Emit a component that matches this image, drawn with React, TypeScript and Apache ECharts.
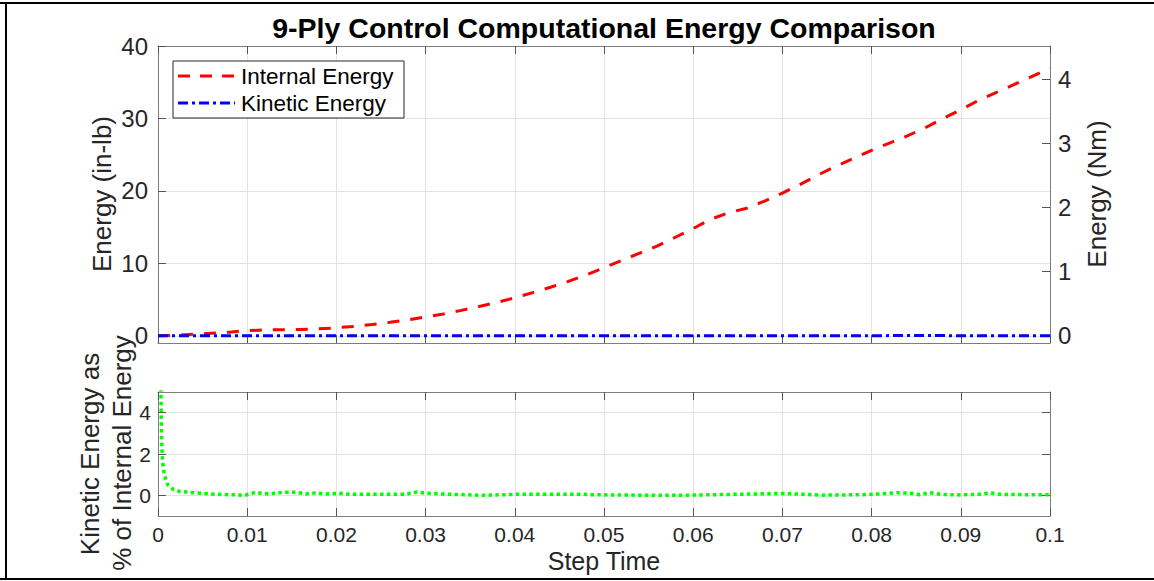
import React, { useEffect, useRef } from "react";
import * as echarts from "echarts";

// ---- Data ----
const ieTime = [0, 0.002, 0.004, 0.006, 0.008, 0.01, 0.012, 0.014, 0.016, 0.018, 0.02, 0.022, 0.024, 0.026, 0.028, 0.03, 0.032, 0.034, 0.036, 0.038, 0.04, 0.042, 0.044, 0.046, 0.048, 0.05, 0.052, 0.054, 0.056, 0.058, 0.06, 0.062, 0.064, 0.066, 0.068, 0.07, 0.072, 0.074, 0.076, 0.078, 0.08, 0.082, 0.084, 0.086, 0.088, 0.09, 0.092, 0.094, 0.096, 0.098, 0.1];
const internalEnergy = [0, 0.05, 0.2, 0.35, 0.5, 0.7, 0.8, 0.83, 0.87, 0.95, 1.1, 1.3, 1.55, 1.85, 2.2, 2.6, 3.0, 3.5, 4.05, 4.6, 5.25, 5.95, 6.7, 7.5, 8.4, 9.4, 10.4, 11.4, 12.4, 13.6, 14.8, 16.1, 17.0, 17.6, 18.6, 19.7, 20.9, 22.2, 23.4, 24.5, 25.6, 26.6, 27.6, 28.7, 30.0, 31.2, 32.5, 33.6, 34.7, 35.8, 36.9];

const keTime = [0, 0.01, 0.02, 0.03, 0.04, 0.05, 0.06, 0.07, 0.08, 0.085, 0.09, 0.1];
const kineticEnergy = [0, 0.0005, 0.001, 0.003, 0.002, 0.004, 0.002, 0.015, 0.01, 0.035, 0.01, 0.011];

const ratioTime = [0.0003, 0.00035, 0.0004, 0.0005, 0.0007, 0.0011, 0.0017, 0.0024, 0.004, 0.0066, 0.0088, 0.0097, 0.0103, 0.011, 0.0118, 0.0133, 0.014, 0.0155, 0.0166, 0.0177, 0.0189, 0.0202, 0.0215, 0.0252, 0.0278, 0.029, 0.0301, 0.0316, 0.035, 0.0365, 0.0402, 0.0477, 0.0484, 0.0559, 0.0597, 0.0671, 0.0701, 0.0746, 0.079, 0.0809, 0.0831, 0.0846, 0.0854, 0.0865, 0.0877, 0.0895, 0.0921, 0.0933, 0.0944, 0.097, 0.1];
const kePercent = [6.5, 4.2, 2.8, 1.7, 1.0, 0.5, 0.29, 0.19, 0.13, 0.05, 0.02, 0.0, 0.07, 0.15, 0.07, 0.1, 0.15, 0.15, 0.07, 0.12, 0.07, 0.1, 0.05, 0.05, 0.05, 0.16, 0.1, 0.07, 0.02, 0.0, 0.05, 0.05, 0.03, 0.0, 0.01, 0.07, 0.09, 0.01, 0.03, 0.07, 0.13, 0.09, 0.03, 0.13, 0.05, 0.02, 0.05, 0.12, 0.05, 0.03, 0.03];

const energyTicksInLb = [0, 10, 20, 30, 40];
const energyTicksNm = [0, 1, 2, 3, 4];
const ratioTicks = [0, 2, 4];
const IN_LB_PER_NM = 8.8507;

const TITLE = "9-Ply Control Computational Energy Comparison";
const FONT = "'Liberation Sans', Arial, Helvetica, sans-serif";

const zip = (xs: number[], ys: number[]) => xs.map((x, i) => [x, ys[i]]);

export default function App() {
  const ref = useRef<HTMLDivElement>(null);
  useEffect(() => {
    document.body.style.margin = "0";
    const chart = echarts.init(ref.current!, null, { renderer: "svg" });
    const axisLine = { show: true, onZero: false, lineStyle: { color: "#7d7d7d", width: 1 } };
    const tickIn = (show = true, vals?: number[]) => ({ show, inside: true, length: 8, lineStyle: { color: "#555555", width: 1 }, ...(vals ? { customValues: vals } : {}) });
    const grid = { show: true, lineStyle: { color: "#e3e3e3", width: 1 } };
    const xCommon = { type: "value", min: 0, max: 0.1, interval: 0.01 };
    const xFmt = (v: number) => String(+v.toFixed(2));

    chart.setOption({
      animation: false,
      textStyle: { fontFamily: FONT },
      grid: [
        { left: 158, top: 46, width: 892, height: 297, containLabel: false },
        { left: 158, top: 392, width: 892, height: 124, containLabel: false },
      ],
      xAxis: [
        { ...xCommon, gridIndex: 0, position: "bottom", axisLine, axisTick: tickIn(), axisLabel: { show: false }, splitLine: grid },
        { ...xCommon, gridIndex: 0, position: "top", axisLine, axisTick: tickIn(), axisLabel: { show: false }, splitLine: { show: false } },
        { ...xCommon, gridIndex: 1, position: "bottom", axisLine, axisTick: tickIn(), splitLine: grid,
          axisLabel: { show: true, fontSize: 21, color: "#262626", margin: 8, formatter: xFmt } },
        { ...xCommon, gridIndex: 1, position: "top", axisLine, axisTick: tickIn(), axisLabel: { show: false }, splitLine: { show: false } },
      ],
      yAxis: [
        { type: "value", gridIndex: 0, position: "left", min: -1, max: 40, axisLine, axisTick: tickIn(true, energyTicksInLb),
          axisLabel: { show: true, customValues: energyTicksInLb, fontSize: 24, color: "#262626", margin: 10 }, splitLine: grid },
        { type: "value", gridIndex: 0, position: "right", min: -1 / IN_LB_PER_NM, max: 40 / IN_LB_PER_NM, axisLine, axisTick: tickIn(true, energyTicksNm),
          axisLabel: { show: true, customValues: energyTicksNm, fontSize: 24, color: "#262626", margin: 8 }, splitLine: { show: false } },
        { type: "value", gridIndex: 1, position: "left", min: -1, max: 5, axisLine, axisTick: tickIn(true, ratioTicks),
          axisLabel: { show: true, customValues: ratioTicks, fontSize: 21, color: "#262626", margin: 7 }, splitLine: grid },
        { type: "value", gridIndex: 1, position: "right", min: -1, max: 5, axisLine, axisTick: tickIn(true, ratioTicks),
          axisLabel: { show: false }, splitLine: { show: false } },
      ],
      series: [
        { name: "Internal Energy", type: "line", xAxisIndex: 0, yAxisIndex: 0, data: zip(ieTime, internalEnergy), showSymbol: false, symbol: "none",
          lineStyle: { color: "#ff0000", width: 3, type: [12, 11], cap: "butt" }, z: 3 },
        { name: "Kinetic Energy", type: "line", xAxisIndex: 0, yAxisIndex: 0, data: zip(keTime, kineticEnergy), showSymbol: false, symbol: "none",
          lineStyle: { color: "#0000ff", width: 3, type: [10, 4, 3, 4], cap: "butt" }, z: 4 },
        { name: "KE %", type: "line", xAxisIndex: 2, yAxisIndex: 2, data: zip(ratioTime, kePercent), showSymbol: false, symbol: "none", clip: true,
          lineStyle: { color: "#00ff00", width: 3.5, type: [3.5, 3.3], cap: "butt" }, z: 3 },
      ],
      graphic: [
        // outer frame
        { type: "line", z: 200, shape: { x1: 0, y1: 3, x2: 1154, y2: 3 }, style: { stroke: "#000", lineWidth: 2 } },
        { type: "line", z: 200, shape: { x1: 6, y1: 3, x2: 6, y2: 579 }, style: { stroke: "#000", lineWidth: 2 } },
        { type: "line", z: 200, shape: { x1: 0, y1: 579, x2: 1154, y2: 579 }, style: { stroke: "#000", lineWidth: 2 } },
        // title
        { type: "text", z: 200, x: 604, y: 28, style: { text: TITLE, fontFamily: FONT, fontSize: 28.5, fontWeight: "bold", fill: "#000", align: "center", verticalAlign: "middle" } },
        // axis names
        { type: "text", z: 200, x: 102, y: 194, rotation: Math.PI / 2, style: { text: "Energy (in-lb)", fontFamily: FONT, fontSize: 26, fill: "#262626", align: "center", verticalAlign: "middle" } },
        { type: "text", z: 200, x: 1097, y: 194, rotation: Math.PI / 2, style: { text: "Energy (Nm)", fontFamily: FONT, fontSize: 26, fill: "#262626", align: "center", verticalAlign: "middle" } },
        { type: "text", z: 200, x: 90, y: 454, rotation: Math.PI / 2, style: { text: "Kinetic Energy as", fontFamily: FONT, fontSize: 26, fill: "#262626", align: "center", verticalAlign: "middle" } },
        { type: "text", z: 200, x: 122, y: 453, rotation: Math.PI / 2, style: { text: "% of Internal Energy", fontFamily: FONT, fontSize: 26, fill: "#262626", align: "center", verticalAlign: "middle" } },
        { type: "text", z: 200, x: 604, y: 561, style: { text: "Step Time", fontFamily: FONT, fontSize: 25, fill: "#262626", align: "center", verticalAlign: "middle" } },
        // legend
        { type: "rect", z: 200, shape: { x: 173, y: 61, width: 231, height: 57 }, style: { fill: "#fff", stroke: "#262626", lineWidth: 1 } },
        { type: "line", z: 201, shape: { x1: 178, y1: 76, x2: 235, y2: 76 }, style: { stroke: "#ff0000", lineWidth: 3, lineDash: [12, 10] } },
        { type: "line", z: 201, shape: { x1: 178, y1: 103, x2: 235, y2: 103 }, style: { stroke: "#0000ff", lineWidth: 3, lineDash: [10, 4, 3, 4] } },
        { type: "text", z: 201, x: 241, y: 76, style: { text: "Internal Energy", fontFamily: FONT, fontSize: 22.5, fill: "#000", align: "left", verticalAlign: "middle" } },
        { type: "text", z: 201, x: 241, y: 103, style: { text: "Kinetic Energy", fontFamily: FONT, fontSize: 22.5, fill: "#000", align: "left", verticalAlign: "middle" } },
      ],
    });
    return () => chart.dispose();
  }, []);
  return <div ref={ref} style={{ width: 1154, height: 581 }} />;
}
